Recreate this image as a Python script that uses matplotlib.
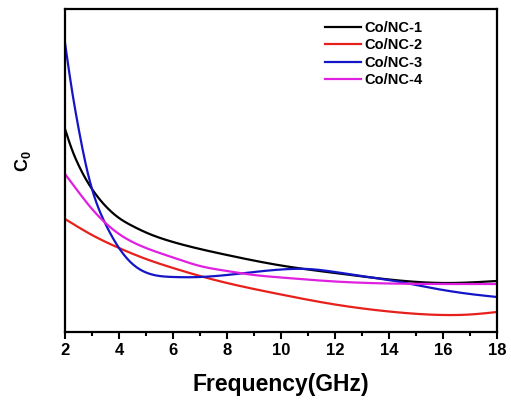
import matplotlib
matplotlib.use("Agg")
import matplotlib.pyplot as plt
import numpy as np

plt.rcParams['font.family'] = ['Liberation Sans', 'DejaVu Sans']
plt.rcParams['font.weight'] = 'bold'
plt.rcParams['mathtext.fontset'] = 'custom'
plt.rcParams['mathtext.rm'] = 'Liberation Sans:bold'
plt.rcParams['mathtext.bf'] = 'Liberation Sans:bold'

labels = ['Co/NC-1', 'Co/NC-2', 'Co/NC-3', 'Co/NC-4']
colors = ['#000000', '#e8201c', '#1515c8', '#e020e0']

freq1 = [2, 2.25, 2.5, 3, 3.5, 4, 4.5, 5, 6, 7, 8, 10, 12, 14, 16, 18]
c0_1 = [203, 183, 167, 143, 126, 114, 106, 99.5, 90, 83, 77, 66.5, 59, 52.5, 49, 51]

freq2 = [2, 3, 4, 5, 6, 7, 8, 9, 10, 12, 14, 16, 17, 18]
c0_2 = [113, 97, 84, 73, 64, 56, 49, 43, 37.5, 27.5, 20.5, 17, 17.5, 20]

freq3 = [2, 2.25, 2.5, 2.75, 3, 3.5, 4, 4.5, 5, 5.5, 6, 7, 8, 9, 10, 11, 12, 13, 14, 15, 16, 17, 18]
c0_3 = [289, 243, 204, 170, 143, 108, 84, 68, 59.5, 56, 55, 55, 57, 60, 62.5, 63, 60, 56, 52, 47, 42, 38, 35]

freq4 = [2, 2.5, 3, 3.5, 4, 4.5, 5, 6, 7, 8, 9, 10, 12, 14, 16, 18]
c0_4 = [158, 140, 123, 109, 98, 90, 84, 74.5, 66, 61, 57, 54.5, 50.5, 48.5, 48, 48]

series = [(freq1, c0_1), (freq2, c0_2), (freq3, c0_3), (freq4, c0_4)]


def spline(x, y, n=400):
    """Natural cubic spline through the read points, for smooth drawing."""
    x = np.asarray(x, float); y = np.asarray(y, float)
    N = len(x); h = np.diff(x)
    A = np.zeros((N, N)); b = np.zeros(N)
    A[0, 0] = A[-1, -1] = 1
    for i in range(1, N - 1):
        A[i, i-1] = h[i-1]; A[i, i] = 2*(h[i-1] + h[i]); A[i, i+1] = h[i]
        b[i] = 3*((y[i+1]-y[i])/h[i] - (y[i]-y[i-1])/h[i-1])
    c = np.linalg.solve(A, b)
    bb = (y[1:]-y[:-1])/h - h*(2*c[:-1] + c[1:])/3
    d = (c[1:] - c[:-1])/(3*h)
    xs = np.linspace(x[0], x[-1], n)
    idx = np.clip(np.searchsorted(x, xs) - 1, 0, N - 2)
    t = xs - x[idx]
    ys = y[idx] + bb[idx]*t + c[idx]*t**2 + d[idx]*t**3
    return xs, ys


fig = plt.figure(figsize=(5.11, 4.04), dpi=100)
ax = fig.add_axes([65/511, 72/404, 432/511, 323/404])

for (x, y), lab, c in zip(series, labels, colors):
    xs, ys = spline(x, y)
    ax.plot(xs, ys, color=c, lw=1.6, label=lab)

ax.set_xlim(2, 18)
ax.set_ylim(0, 323)
ax.set_xticks(np.arange(2, 19, 2))
ax.set_xticks(np.arange(2, 19, 1), minor=True)
ax.set_yticks([])
ax.tick_params(axis='x', which='major', direction='out', length=5, width=1.5, labelsize=12, pad=3)
ax.tick_params(axis='x', which='minor', direction='out', length=3, width=1.5)
for lbl in ax.get_xticklabels():
    lbl.set_fontweight('bold')
for s in ax.spines.values():
    s.set_linewidth(1.6)

ax.set_xlabel('Frequency(GHz)', fontsize=16.5, fontweight='bold', labelpad=11)
ax.set_ylabel(r'C$_\mathregular{0}$', fontsize=13, fontweight='bold')
ax.yaxis.set_label_coords(-0.075, 0.53)

leg = ax.legend(loc='upper left', bbox_to_anchor=(0.575, 1.0), frameon=False,
                prop={'weight': 'bold', 'size': 10.5}, handlelength=2.45,
                handletextpad=0.25, labelspacing=0.24, borderaxespad=0.4)

fig.savefig('out.png', dpi=100)
